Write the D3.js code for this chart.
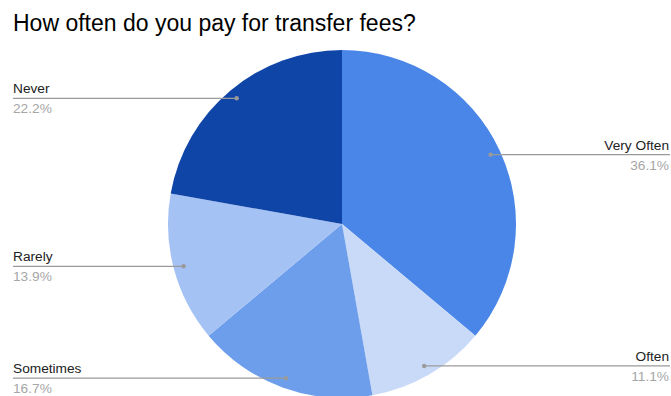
<!DOCTYPE html>
<html>
<head>
<meta charset="utf-8">
<script src="https://cdn.jsdelivr.net/npm/d3@7"></script>
<style>
  html, body { margin: 0; padding: 0; background: #fff; }
  svg { display: block; font-family: Arial, "Liberation Sans", sans-serif; }
</style>
</head>
<body>
<svg id="chart" width="671" height="396"></svg>
<script>
// Survey answers, clockwise from 12 o'clock
const categories = ["Very Often", "Often", "Sometimes", "Rarely", "Never"];
const percents = [36.1, 11.1, 16.7, 13.9, 22.2];
const colors = ["#4a86e8", "#c9daf8", "#6d9eeb", "#a4c2f4", "#1045a8"];
const title = "How often do you pay for transfer fees?";

const W = 671, H = 396;
const cx = 342, cy = 224, R = 174;
const dotR = 164;        // radius where leader lines start
const leftX = 13, rightX = 669;

const svg = d3.select("#chart");

svg.append("text")
  .attr("x", 13).attr("y", 31)
  .attr("font-size", 23)
  .attr("fill", "#000")
  .text(title);

const data = categories.map((c, i) => ({ name: c, value: percents[i], color: colors[i] }));

const pie = d3.pie().value(d => d.value).sort(null);
const arcs = pie(data);
const arc = d3.arc().innerRadius(0).outerRadius(R);

const g = svg.append("g").attr("transform", `translate(${cx},${cy})`);

g.selectAll("path.slice")
  .data(arcs)
  .join("path")
  .attr("class", "slice")
  .attr("d", arc)
  .attr("fill", d => d.data.color);

// Leader lines and labels
const labels = svg.append("g");
arcs.forEach(a => {
  const mid = (a.startAngle + a.endAngle) / 2;
  const px = cx + dotR * Math.sin(mid);
  const py = cy - dotR * Math.cos(mid);
  const right = Math.sin(mid) > 0;
  const endX = right ? rightX + 1 : leftX;

  labels.append("line")
    .attr("x1", px).attr("y1", py)
    .attr("x2", endX).attr("y2", py)
    .attr("stroke", "#9a9a9a")
    .attr("stroke-width", 1.2);

  labels.append("circle")
    .attr("cx", px).attr("cy", py).attr("r", 2.2)
    .attr("fill", "#9a9a9a");

  const tx = right ? rightX : leftX;
  const anchor = right ? "end" : "start";

  labels.append("text")
    .attr("x", tx).attr("y", py - 5)
    .attr("text-anchor", anchor)
    .attr("font-size", 13.7)
    .attr("fill", "#222")
    .text(a.data.name);

  labels.append("text")
    .attr("x", tx).attr("y", py + 15)
    .attr("text-anchor", anchor)
    .attr("font-size", 13.7)
    .attr("fill", "#a6a6a6")
    .text(d3.format(".1f")(a.data.value) + "%");
});
</script>
</body>
</html>
